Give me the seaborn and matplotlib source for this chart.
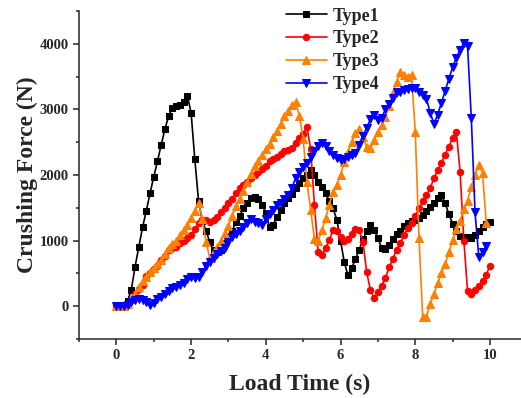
import numpy as np
import pandas as pd
import matplotlib
matplotlib.use("Agg")
import matplotlib.pyplot as plt
import seaborn as sns
from matplotlib.ticker import MultipleLocator

series_names = ["Type1", "Type2", "Type3", "Type4"]

type1 = [0, 0, 10, 80, 250, 600, 900, 1200, 1450, 1720,
         1970, 2210, 2460, 2700, 2900, 3020, 3050, 3070, 3120, 3210,
         2950, 2240, 1600, 1300, 1150, 980, 850, 820, 860, 960,
         1050, 1150, 1280, 1370, 1500, 1580, 1650, 1660, 1640, 1550,
         1420, 1210, 1240, 1360, 1460, 1570, 1650, 1710, 1800, 1880,
         1950, 2000, 2080, 2000, 1900, 1820, 1720, 1600, 1490, 1320,
         1000, 670, 470, 580, 720, 860, 1020, 1140, 1240, 1160,
         1040, 890, 870, 930, 1030, 1100, 1150, 1220, 1270, 1300,
         1320, 1340, 1390, 1450, 1510, 1570, 1650, 1690, 1570, 1400,
         1260, 1150, 1070, 1050, 1050, 1040, 1080, 1140, 1200, 1260,
         1290]

type2 = [0, 0, 0, 30, 100, 180, 260, 320, 460, 510,
         560, 620, 700, 760, 850, 890, 910, 960, 1000, 1040,
         1090, 1170, 1270, 1310, 1320, 1290, 1310, 1360, 1430, 1490,
         1570, 1640, 1720, 1800, 1850, 1900, 1950, 2000, 2050, 2090,
         2140, 2210, 2240, 2280, 2320, 2360, 2380, 2410, 2490, 2560,
         2630, 2730, 2400, 1550, 830, 780, 880, 1010, 1160, 1140,
         1060, 990, 1030, 1100, 1180, 1160, 980, 520, 240, 130,
         220, 310, 430, 590, 720, 860, 960, 1090, 1190, 1270,
         1380, 1490, 1600, 1690, 1800, 1950, 2070, 2190, 2310, 2430,
         2570, 2650, 2050, 1000, 230, 190, 250, 310, 380, 480,
         620]

type3 = [0, 0, 0, 30, 110, 190, 290, 380, 450, 520,
         580, 640, 710, 800, 890, 950, 1000, 1080, 1160, 1240,
         1340, 1450, 1580, 1330, 980, 730, 820, 900, 1000, 1110,
         1230, 1380, 1530, 1640, 1760, 1900, 2020, 2140, 2220, 2310,
         2400, 2480, 2580, 2670, 2780, 2900, 2970, 3060, 3110, 2900,
         2550, 1900, 1470, 1030, 990, 1160, 1340, 1550, 1740, 1850,
         2000, 2200, 2350, 2500, 2640, 2700, 2580, 2420, 2410, 2530,
         2650, 2760, 2880, 3050, 3250, 3420, 3570, 3530, 3500, 3530,
         2660, 1040, -170, -170, 40, 180, 360, 500, 640, 820,
         1010, 1170, 1300, 1480, 1610, 1820, 2000, 2150, 2030, 1270]

type4 = [0, 0, 0, 20, 60, 90, 110, 100, 60, 20,
         50, 110, 140, 190, 230, 270, 290, 320, 360, 420,
         440, 430, 440, 520, 615, 670, 730, 790, 840, 890,
         980, 1050, 1100, 1150, 1210, 1270, 1330, 1290, 1270, 1240,
         1330, 1410, 1470, 1540, 1580, 1630, 1700, 1800, 1960, 2040,
         2120, 2180, 2270, 2370, 2440, 2490, 2440, 2360, 2310, 2260,
         2230, 2250, 2280, 2300, 2340, 2460, 2600, 2720, 2850, 2920,
         2840, 2870, 3000, 3080, 3180, 3260, 3270, 3300, 3310, 3330,
         3320, 3260, 3220, 3160, 2950, 2780, 2920, 3100, 3280, 3470,
         3640, 3790, 3910, 4010, 3960, 2870, 1430, 750, 820, 920]

time_step = 0.1
x_ticks = [0, 2, 4, 6, 8, 10]
y_ticks = [0, 1000, 2000, 3000, 4000]

series_values = [type1, type2, type3, type4]
colors = ["#000000", "#FF0000", "#FF8000", "#0000FF"]
markers = ["s", "o", "^", "v"]
msizes = [4.2, 4.6, 5.2, 5.2]

sns.set_style("ticks")
plt.rcParams["font.family"] = ["Liberation Serif", "DejaVu Serif"]
plt.rcParams["font.weight"] = "bold"

fig = plt.figure(figsize=(5.21, 3.98), dpi=100)
ax = fig.add_axes([79 / 521, 1 - 339 / 398, 1 - 79 / 521, (339 - 11) / 398])

for name, vals, c, m, ms in zip(series_names, series_values, colors, markers, msizes):
    t = np.round(np.arange(len(vals)) * time_step, 2)
    df = pd.DataFrame({"t": t, "F": vals})
    sns.lineplot(data=df, x="t", y="F", ax=ax, color=c, marker=m, markersize=ms,
                 markeredgecolor=c, markerfacecolor=c, linewidth=1.2, label=name,
                 sort=False, estimator=None)

ax.set_xlim(-1, 10.83)
ax.set_ylim(-500, 4500)
ax.set_xticks(x_ticks)
ax.set_yticks(y_ticks)
ax.xaxis.set_minor_locator(MultipleLocator(1))
ax.yaxis.set_minor_locator(MultipleLocator(500))
ax.tick_params(axis="both", which="major", direction="out", length=4.5, width=1.1,
               labelsize=10.5, pad=3)
ax.tick_params(axis="both", which="minor", direction="out", length=2.5, width=1.1)
for lab in ax.get_xticklabels() + ax.get_yticklabels():
    lab.set_fontweight("bold")

for side in ["top", "right"]:
    ax.spines[side].set_visible(False)
for side in ["left", "bottom"]:
    ax.spines[side].set_linewidth(1.1)

ax.set_xlabel("Load Time (s)", fontsize=17, fontweight="bold", labelpad=8)
ax.set_ylabel("Crushing Force (N)", fontsize=17, fontweight="bold", labelpad=1)

leg = ax.legend(loc="upper left", bbox_to_anchor=(282 / 521, 1 - 4 / 398),
                bbox_transform=fig.transFigure, frameon=False,
                prop={"size": 13, "weight": "bold"}, handlelength=2.3,
                handletextpad=0.3, labelspacing=0.32, borderaxespad=0, borderpad=0.2)

fig.savefig("out.png", dpi=100)
